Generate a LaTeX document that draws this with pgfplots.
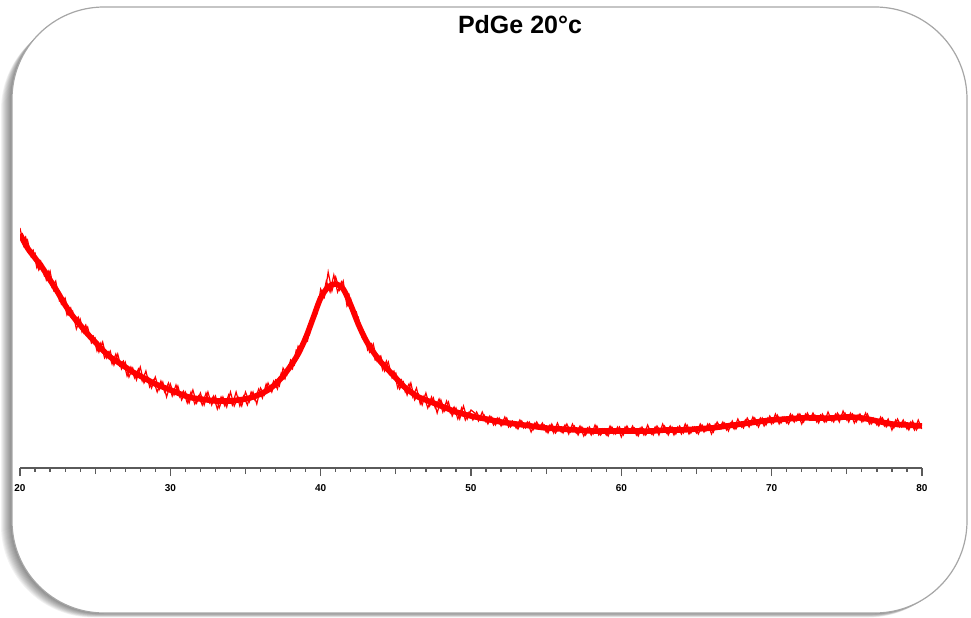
\documentclass[border=0pt]{standalone}
\usepackage{fontspec}
\setmainfont{Liberation Sans}
\usepackage{pgfplots}
\pgfplotsset{compat=1.18}
\definecolor{xrdred}{RGB}{255,0,0}
\definecolor{axgray}{RGB}{90,90,90}
\begin{document}
\begin{tikzpicture}[x=0.5pt,y=0.5pt]
\path[use as bounding box] (0,0) rectangle (971,617);
% soft shadow of the frame
\foreach \k in {1,...,11} {
  \fill[black, opacity=0.05, rounded corners=46pt] (12-\k,4-0.4*\k) rectangle (967-0.6*\k,610-\k);
}
\filldraw[draw=black!35, line width=0.6pt, fill=white, rounded corners=46pt] (12,4) rectangle (967,610);
\node[font=\fontsize{12.5}{14}\selectfont\bfseries, text=black] at (520,592) {PdGe 20°c};
\begin{axis}[
  at={(10pt,74.5pt)}, anchor=south west,
  scale only axis, width=451pt, height=230pt,
  xmin=20, xmax=80, ymin=0, ymax=460,
  axis x line=bottom, axis y line=none,
  axis line style={axgray, line width=0.8pt, -},
  xtick={20,30,40,50,60,70,80},
  minor x tick num=9,
  tick align=outside,
  major tick length=4pt, minor tick length=1.8pt,
  every tick/.style={axgray, line width=0.6pt},
  extra x ticks={25,35,45,55,65,75},
  extra x tick labels={},
  extra x tick style={major tick length=3pt},
  xticklabel style={font=\fontsize{5}{5.5}\selectfont\bfseries, text=black, yshift=-0.5pt},
  /pgf/number format/assume math mode=true,
]
% smoothed core of the signal
\addplot[xrdred, line width=2.8pt, smooth, line join=round] coordinates {
(20.0,234) (20.5,220) (21.0,210) (21.5,200) (22.0,188) (22.5,176) (23.0,163) (23.5,152) (24.0,143) (24.5,134)
(25.0,126) (25.5,118) (26.0,111) (26.5,106) (27.0,101) (27.5,96) (28.0,92) (28.5,88) (29.0,84) (29.5,81)
(30.0,78) (30.5,75) (31.0,72) (31.5,70) (32.0,69) (32.5,68) (33.0,67) (33.5,67) (34.0,67) (34.5,68)
(35.0,69) (35.5,71) (36.0,74) (36.5,78) (37.0,84) (37.5,92) (38.0,102) (38.5,114) (39.0,130) (39.5,150)
(40.0,170) (40.5,181) (41.0,184) (41.5,179) (42.0,163) (42.5,144) (43.0,128) (43.5,116) (44.0,106) (44.5,98)
(45.0,90) (45.5,82) (46.0,76) (46.5,71) (47.0,68) (47.5,65) (48.0,62) (48.5,59) (49.0,56) (49.5,54)
(50,52) (51,49) (52,46) (53,44) (54,42) (55,40) (56,39) (57,38) (58,37) (59,37)
(60,37) (61,37) (62,37) (63,38) (64,38) (65,39) (66,40) (67,42) (68,44) (69,46)
(70,48) (71,49) (72,50) (73,50) (74,50) (75,51) (76,50) (77,47) (78,44) (79,43) (80,42)
};
% noisy trace, first pass
\addplot[xrdred, line width=0.6pt] coordinates {
(20.00,240) (20.25,222) (20.50,228) (20.75,211) (21.00,215) (21.25,198) (21.50,204) (21.75,188)
(22.00,197) (22.25,177) (22.50,179) (22.75,164) (23.00,170) (23.25,153) (23.50,157) (23.75,139)
(24.00,149) (24.25,135) (24.50,141) (24.75,125) (25.00,130) (25.25,116) (25.50,126) (25.75,110)
(26.00,117) (26.25,103) (26.50,114) (26.75,99) (27.00,106) (27.25,91) (27.50,100) (27.75,88)
(28.00,101) (28.25,85) (28.50,91) (28.75,80) (29.00,91) (29.25,78) (29.50,86) (29.75,71)
(30.00,84) (30.25,73) (30.50,82) (30.75,68) (31.00,76) (31.25,65) (31.50,78) (31.75,65)
(32.00,75) (32.25,63) (32.50,76) (32.75,63) (33.00,72) (33.25,60) (33.50,71) (33.75,61)
(34.00,76) (34.25,62) (34.50,71) (34.75,62) (35.00,76) (35.25,66) (35.50,76) (35.75,64)
(36.00,80) (36.25,73) (36.50,85) (36.75,76) (37.00,88) (37.25,82) (37.50,100) (37.75,93)
(38.00,108) (38.25,103) (38.50,122) (38.75,118) (39.00,135) (39.25,133) (39.50,154) (39.75,154)
(40.00,179) (40.25,171) (40.50,196) (40.75,177) (41.00,191) (41.25,178) (41.50,187) (41.75,162)
(42.00,169) (42.25,150) (42.50,151) (42.75,131) (43.00,132) (43.25,116) (43.50,124) (43.75,107)
(44.00,112) (44.25,97) (44.50,106) (44.75,90) (45.00,95) (45.25,79) (45.50,86) (45.75,73)
(46.00,85) (46.25,68) (46.50,74) (46.75,63) (47.00,75) (47.25,62) (47.50,70) (47.75,55)
(48.00,68) (48.25,57) (48.50,66) (48.75,52) (49.00,60) (49.25,49) (49.50,62) (49.75,49)
(50.00,58) (50.25,55) (50.50,47) (50.75,56) (51.00,46) (51.25,52) (51.50,43) (51.75,50)
(52.00,42) (52.25,51) (52.50,41) (52.75,47) (53.00,40) (53.25,48) (53.50,40) (53.75,46)
(54.00,36) (54.25,45) (54.50,39) (54.75,45) (55.00,36) (55.25,43) (55.50,35) (55.75,45)
(56.00,36) (56.25,43) (56.50,34) (56.75,44) (57.00,35) (57.25,42) (57.50,32) (57.75,40)
(58.00,33) (58.25,43) (58.50,33) (58.75,39) (59.00,33) (59.25,42) (59.50,34) (59.75,41)
(60.00,31) (60.25,41) (60.50,35) (60.75,42) (61.00,33) (61.25,40) (61.50,33) (61.75,43)
(62.00,34) (62.25,41) (62.50,33) (62.75,44) (63.00,35) (63.25,42) (63.50,33) (63.75,41)
(64.00,34) (64.25,44) (64.50,34) (64.75,41) (65.00,35) (65.25,44) (65.50,36) (65.75,44)
(66.00,34) (66.25,44) (66.50,39) (66.75,46) (67.00,38) (67.25,45) (67.50,39) (67.75,49)
(68.00,41) (68.25,48) (68.50,41) (68.75,51) (69.00,43) (69.25,50) (69.50,42) (69.75,50)
(70.00,44) (70.25,54) (70.50,44) (70.75,51) (71.00,45) (71.25,54) (71.50,46) (71.75,54)
(72.00,44) (72.25,54) (72.50,48) (72.75,55) (73.00,46) (73.25,53) (73.50,46) (73.75,56)
(74.00,47) (74.25,54) (74.50,46) (74.75,57) (75.00,48) (75.25,55) (75.50,45) (75.75,53)
(76.00,46) (76.25,55) (76.50,44) (76.75,50) (77.00,43) (77.25,51) (77.50,42) (77.75,49)
(78.00,38) (78.25,48) (78.50,41) (78.75,48) (79.00,39) (79.25,46) (79.50,38) (79.75,48)
(80.00,39)
};
% noisy trace, second pass (interleaved readings)
\addplot[xrdred, line width=0.6pt] coordinates {
(20.125,225) (20.375,231) (20.625,215) (20.875,218) (21.125,200) (21.375,207) (21.625,192) (21.875,197)
(22.125,181) (22.375,187) (22.625,167) (22.875,170) (23.125,153) (23.375,160) (23.625,146) (23.875,151)
(24.125,136) (24.375,143) (24.625,129) (24.875,132) (25.125,117) (25.375,125) (25.625,110) (25.875,116)
(26.125,104) (26.375,114) (26.625,102) (26.875,107) (27.125,92) (27.375,101) (27.625,90) (27.875,99)
(28.125,87) (28.375,97) (28.625,81) (28.875,88) (29.125,76) (29.375,87) (29.625,76) (29.875,85)
(30.125,72) (30.375,83) (30.625,71) (30.875,77) (31.125,65) (31.375,76) (31.625,64) (31.875,72)
(32.125,63) (32.375,75) (32.625,65) (32.875,72) (33.125,59) (33.375,71) (33.625,62) (33.875,73)
(34.125,63) (34.375,76) (34.625,62) (34.875,72) (35.125,63) (35.375,76) (35.625,68) (35.875,79)
(36.125,70) (36.375,84) (36.625,77) (36.875,87) (37.125,79) (37.375,95) (37.625,89) (37.875,103)
(38.125,99) (38.375,118) (38.625,115) (38.875,131) (39.125,127) (39.375,149) (39.625,150) (39.875,171)
(40.125,169) (40.375,187) (40.625,176) (40.875,193) (41.125,176) (41.375,186) (41.625,172) (41.875,174)
(42.125,153) (42.375,156) (42.625,137) (42.875,136) (43.125,118) (43.375,124) (43.625,108) (43.875,112)
(44.125,98) (44.375,107) (44.625,93) (44.875,97) (45.125,80) (45.375,88) (45.625,76) (45.875,84)
(46.125,71) (46.375,80) (46.625,64) (46.875,72) (47.125,60) (47.375,71) (47.625,60) (47.875,69)
(48.125,56) (48.375,67) (48.625,55) (48.875,61) (49.125,49) (49.375,60) (49.625,48) (49.875,56)
(50.125,48) (50.375,56) (50.625,48) (50.875,53) (51.125,44) (51.375,51) (51.625,43) (51.875,50)
(52.125,43) (52.375,50) (52.625,41) (52.875,46) (53.125,39) (53.375,47) (53.625,40) (53.875,46)
(54.125,38) (54.375,46) (54.625,39) (54.875,43) (55.125,35) (55.375,44) (55.625,35) (55.875,41)
(56.125,35) (56.375,44) (56.625,36) (56.875,42) (57.125,33) (57.375,41) (57.625,33) (57.875,41)
(58.125,34) (58.375,42) (58.625,33) (58.875,39) (59.125,32) (59.375,41) (59.625,34) (59.875,41)
(60.125,33) (60.375,42) (60.625,35) (60.875,40) (61.125,32) (61.375,41) (61.625,33) (61.875,39)
(62.125,33) (62.375,42) (62.625,36) (62.875,42) (63.125,33) (63.375,41) (63.625,34) (63.875,42)
(64.125,35) (64.375,43) (64.625,35) (64.875,41) (65.125,34) (65.375,43) (65.625,37) (65.875,44)
(66.125,36) (66.375,46) (66.625,39) (66.875,45) (67.125,37) (67.375,47) (67.625,39) (67.875,46)
(68.125,40) (68.375,50) (68.625,43) (68.875,50) (69.125,41) (69.375,50) (69.625,43) (69.875,52)
(70.125,45) (70.375,53) (70.625,45) (70.875,51) (71.125,44) (71.375,53) (71.625,47) (71.875,54)
(72.125,46) (72.375,55) (72.625,48) (72.875,53) (73.125,45) (73.375,54) (73.625,46) (73.875,52)
(74.125,46) (74.375,55) (74.625,49) (74.875,55) (75.125,46) (75.375,54) (75.625,46) (75.875,54)
(76.125,47) (76.375,54) (76.625,44) (76.875,49) (77.125,42) (77.375,50) (77.625,41) (77.875,46)
(78.125,40) (78.375,49) (78.625,41) (78.875,46) (79.125,38) (79.375,47) (79.625,38) (79.875,44)
};
\end{axis}
\end{tikzpicture}
\end{document}
